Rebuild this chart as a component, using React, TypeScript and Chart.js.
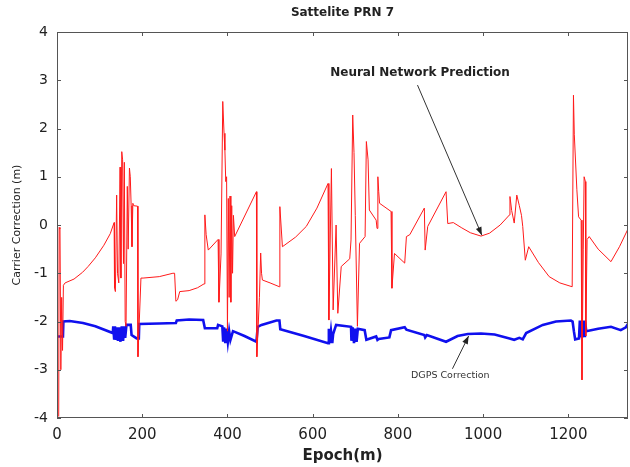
import React, { useEffect, useRef } from "react";
import { Chart, registerables } from "chart.js";

Chart.register(...registerables);

// ---- data ----
const nnEpochs = [
  4, 5, 7, 9, 11, 13, 15, 19, 40, 60, 73, 90, 110, 125, 134,
  135, 137, 140, 142, 145, 148, 150, 152, 154, 156, 158, 160, 162, 165, 167, 170, 172, 174, 176, 178, 180, 189, 190, 197, 202,
  240, 272, 276, 279, 283, 288, 310, 330, 345, 347, 350, 355, 378, 380, 385, 389, 392, 394, 396, 398, 400, 402, 404, 406, 408, 410, 412, 414, 417,
  468, 469, 475, 478, 480, 482, 500, 522, 523, 529, 560, 585, 610, 636, 638, 644, 648, 655, 659, 667, 687, 690, 694, 697, 700, 705, 710, 723, 726, 730, 733,
  749, 751, 753, 755, 757, 784, 786, 792, 816, 820, 828, 862, 864, 870, 913, 917, 930, 950, 970, 995, 1015, 1040, 1062, 1063, 1067, 1073, 1079, 1085, 1090,
  1093, 1099, 1107, 1130, 1155, 1180, 1209, 1212, 1214, 1220, 1224, 1230, 1232, 1235, 1237, 1240, 1241, 1244, 1249, 1270, 1300, 1320, 1339, 1340,
];
const nnValues = [
  -3.97, -0.05, -0.08, -3.0, -1.5, -2.6, -1.25, -1.2, -1.12, -0.98, -0.86, -0.68, -0.42, -0.18, 0.05,
  -1.3, -1.38, 0.62, -1.0, -1.2, 1.2, -1.1, 1.52, 1.35, -0.8, 1.3, -2.0, -2.1, 0.8, -0.5, 1.18, 1.0, 0.4, -0.45, 0.45, 0.4, 0.39, -2.73, -1.1, -1.1,
  -1.07, -1.0, -1.0, -1.58, -1.55, -1.38, -1.36, -1.3, -1.22, 0.21, -0.2, -0.52, -0.3, -1.6, -0.6, 2.56, 1.9, 1.55, 0.9, 1.0, -2.2, 0.55, -1.5, 0.6, -1.6, 0.4, -1.0, 0.2, -0.24,
  0.69, -2.73, -1.5, -0.58, -1.0, -1.14, -1.2, -1.28, 0.38, -0.45, -0.25, -0.03, 0.35, 0.86, -1.97, 1.17, -1.76, 0.0, -1.83, -0.86, -0.7, -0.31, 2.28, 1.5, 0.2, -2.1, -0.38, -0.24, 1.73, 1.35, 0.31,
  0.1, -0.07, 1.0, 0.69, 0.45, 0.28, -1.31, -0.59, -0.79, -0.24, -0.2, 0.35, -0.52, -0.03, 0.69, 0.03, 0.05, -0.06, -0.16, -0.23, -0.17, 0.0, 0.21, 0.59, 0.3, 0.04, 0.62, 0.4, 0.2,
  -0.03, -0.73, -0.45, -0.78, -1.07, -1.2, -1.28, 2.69, 1.87, 0.73, 0.17, 0.1, -3.21, -0.5, 1.0, 0.9, -2.3, -0.3, -0.24, -0.5, -0.76, -0.45, -0.1, -1.6,
];

const dgpsEpochs = [
  0, 14, 15, 30, 61, 90, 131, 132, 134, 136, 138, 140, 143, 146, 149, 152, 155, 158, 160, 163, 173, 175, 187, 192, 193,
  240, 279, 281, 310, 343, 347, 376, 378, 388, 390, 392, 395, 398, 401, 404, 407, 413, 440, 468, 471, 480, 515, 522, 524, 580,
  636, 638, 640, 643, 646, 648, 655, 690, 691, 694, 697, 700, 703, 706, 722, 726, 749, 752, 755, 780, 784, 816, 820, 862, 864, 868,
  913, 940, 964, 995, 1027, 1062, 1073, 1085, 1093, 1101, 1140, 1171, 1206, 1210, 1213, 1216, 1225, 1227, 1229, 1231, 1233, 1235, 1237, 1239, 1242,
  1270, 1300, 1323, 1335, 1340,
];
const dgpsValues = [
  -2.31, -2.31, -2.0, -1.99, -2.03, -2.1, -2.24, -2.1, -2.35, -2.1, -2.38, -2.12, -2.4, -2.12, -2.42, -2.1, -2.4, -2.1, -2.34, -2.07, -2.07, -2.28, -2.35, -2.35, -2.05,
  -2.04, -2.03, -1.98, -1.96, -1.97, -2.14, -2.14, -2.07, -2.1, -2.42, -2.12, -2.45, -2.15, -2.42, -2.2, -2.38, -2.2, -2.3, -2.42, -2.11, -2.07, -1.98, -1.98, -2.16, -2.3,
  -2.45, -2.15, -2.45, -2.2, -2.45, -2.26, -2.07, -2.11, -2.4, -2.12, -2.45, -2.15, -2.42, -2.15, -2.18, -2.38, -2.31, -2.38, -2.36, -2.33, -2.18, -2.12, -2.17, -2.28, -2.33, -2.28,
  -2.42, -2.3, -2.26, -2.25, -2.27, -2.35, -2.38, -2.34, -2.37, -2.24, -2.07, -2.0, -1.98, -2.0, -2.2, -2.37, -2.35, -1.98, -2.33, -1.98, -2.33, -1.98, -2.3, -1.98, -2.2,
  -2.15, -2.11, -2.18, -2.12, -2.05,
];

const xRange = [0, 1340];
const yRange = [-4, 4];
const xStep = 200;
const yStep = 1;

const chartTitle = "Sattelite PRN 7";
const xTitle = "Epoch(m)";
const yTitle = "Carrier Correction (m)";
const nnLabel = { text: "Neural Network Prediction", x: 852, y: 3.15, fromX: 846, fromY: 2.9, toX: 997, toY: -0.21 };
const dgpsLabel = { text: "DGPS Correction", x: 923, y: -3.13, fromX: 928, fromY: -2.98, toX: 966, toY: -2.3 };

const toPoints = (xs: number[], ys: number[]) => xs.map((x, i) => ({ x, y: ys[i] }));

function arrow(ctx: CanvasRenderingContext2D, x1: number, y1: number, x2: number, y2: number) {
  ctx.save();
  ctx.strokeStyle = "#333";
  ctx.fillStyle = "#222";
  ctx.lineWidth = 1;
  ctx.beginPath();
  ctx.moveTo(x1, y1);
  ctx.lineTo(x2, y2);
  ctx.stroke();
  const a = Math.atan2(y2 - y1, x2 - x1);
  const L = 8, W = 3;
  ctx.beginPath();
  ctx.moveTo(x2, y2);
  ctx.lineTo(x2 - L * Math.cos(a) + W * Math.sin(a), y2 - L * Math.sin(a) - W * Math.cos(a));
  ctx.lineTo(x2 - L * Math.cos(a) - W * Math.sin(a), y2 - L * Math.sin(a) + W * Math.cos(a));
  ctx.closePath();
  ctx.fill();
  ctx.restore();
}

const framePlugin = {
  id: "framePlugin",
  afterDatasetsDraw(chart: any) {
    const { ctx, chartArea: a, scales } = chart;
    const xs = scales.x, ys = scales.y;
    ctx.save();
    ctx.strokeStyle = "#555";
    ctx.lineWidth = 1;
    ctx.strokeRect(a.left + 0.5, a.top + 0.5, a.right - a.left - 1, a.bottom - a.top - 1);
    const tl = 4;
    ctx.beginPath();
    xs.ticks.forEach((t: any) => {
      const px = Math.round(xs.getPixelForValue(t.value)) + 0.5;
      ctx.moveTo(px, a.bottom);
      ctx.lineTo(px, a.bottom - tl);
      ctx.moveTo(px, a.top);
      ctx.lineTo(px, a.top + tl);
    });
    ys.ticks.forEach((t: any) => {
      const py = Math.round(ys.getPixelForValue(t.value)) + 0.5;
      ctx.moveTo(a.left, py);
      ctx.lineTo(a.left + tl, py);
      ctx.moveTo(a.right, py);
      ctx.lineTo(a.right - tl, py);
    });
    ctx.stroke();

    // texts
    ctx.fillStyle = "#222";
    ctx.textAlign = "center";
    ctx.textBaseline = "middle";
    const cx = (a.left + a.right) / 2;
    ctx.font = "bold 12px 'DejaVu Sans', sans-serif";
    ctx.fillText(chartTitle, cx, 13);
    ctx.font = "bold 15px 'DejaVu Sans', sans-serif";
    ctx.fillText(xTitle, cx, 456);
    ctx.save();
    ctx.translate(17, (a.top + a.bottom) / 2);
    ctx.rotate(-Math.PI / 2);
    ctx.font = "11px 'DejaVu Sans', sans-serif";
    ctx.fillText(yTitle, 0, 0);
    ctx.restore();

    ctx.font = "bold 12px 'DejaVu Sans', sans-serif";
    ctx.fillText(nnLabel.text, xs.getPixelForValue(nnLabel.x), ys.getPixelForValue(nnLabel.y));
    arrow(ctx, xs.getPixelForValue(nnLabel.fromX), ys.getPixelForValue(nnLabel.fromY), xs.getPixelForValue(nnLabel.toX), ys.getPixelForValue(nnLabel.toY));
    ctx.font = "9.5px 'DejaVu Sans', sans-serif";
    ctx.fillStyle = "#333";
    ctx.fillText(dgpsLabel.text, xs.getPixelForValue(dgpsLabel.x), ys.getPixelForValue(dgpsLabel.y));
    arrow(ctx, xs.getPixelForValue(dgpsLabel.fromX), ys.getPixelForValue(dgpsLabel.fromY), xs.getPixelForValue(dgpsLabel.toX), ys.getPixelForValue(dgpsLabel.toY));
    ctx.restore();
  },
};

export default function App() {
  const ref = useRef<HTMLCanvasElement | null>(null);
  useEffect(() => {
    if (!ref.current) return;
    const chart = new Chart(ref.current, {
      type: "line",
      data: {
        datasets: [
          {
            label: "Neural Network Prediction",
            data: toPoints(nnEpochs, nnValues),
            borderColor: "#ff1a1a",
            borderWidth: 1,
            pointRadius: 0,
            tension: 0,
          },
          {
            label: "DGPS Correction",
            data: toPoints(dgpsEpochs, dgpsValues),
            borderColor: "#1010ee",
            borderWidth: 2.6,
            pointRadius: 0,
            tension: 0,
          },
        ],
      },
      options: {
        responsive: false,
        animation: false,
        layout: { padding: { top: 32, right: 2, left: 0, bottom: 0 } },
        plugins: { legend: { display: false }, tooltip: { enabled: false }, title: { display: false } },
        scales: {
          x: {
            type: "linear",
            min: xRange[0],
            max: xRange[1],
            grid: { display: false, drawTicks: false },
            border: { display: false },
            ticks: {
              stepSize: xStep,
              includeBounds: false,
              maxRotation: 0,
              padding: 8,
              color: "#222",
              font: { family: "'DejaVu Sans', sans-serif", size: 15 },
              callback: (v: any) => String(v),
            },
            afterFit: (s: any) => { s.height = 49; },
          },
          y: {
            type: "linear",
            min: yRange[0],
            max: yRange[1],
            grid: { display: false, drawTicks: false },
            border: { display: false },
            ticks: {
              stepSize: yStep,
              padding: 9,
              color: "#222",
              font: { family: "'DejaVu Sans', sans-serif", size: 14 },
              callback: (v: any) => String(v),
            },
            afterFit: (s: any) => { s.width = 57; },
          },
        },
      },
      plugins: [framePlugin],
    });
    return () => chart.destroy();
  }, []);
  return (
    <div style={{ position: "fixed", left: 0, top: 0, width: 630, height: 467, background: "#fff" }}>
      <canvas ref={ref} width={630} height={467} style={{ display: "block", width: 630, height: 467 }} />
    </div>
  );
}
